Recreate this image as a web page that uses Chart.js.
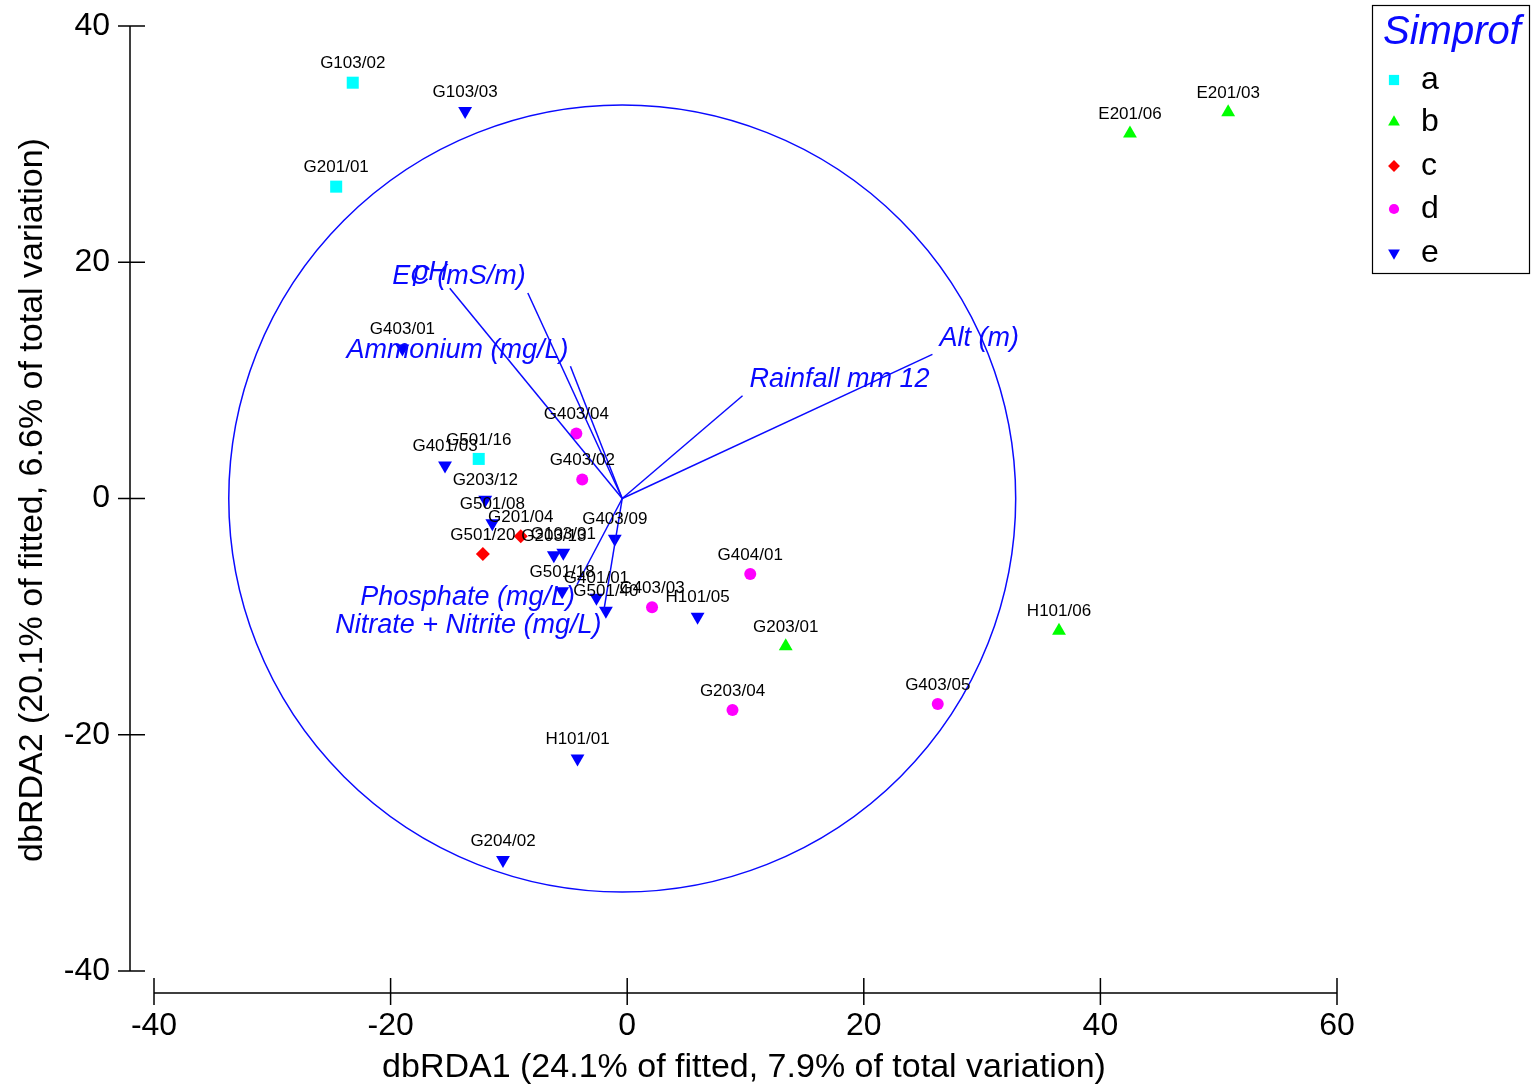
<!DOCTYPE html>
<html>
<head>
<meta charset="utf-8">
<script src="https://cdn.jsdelivr.net/npm/chart.js@4/dist/chart.umd.min.js"></script>
<style>
  html, body { margin: 0; padding: 0; background: #fff; }
  canvas { display: block; }
</style>
</head>
<body>
<canvas id="rdaChart" width="1533" height="1088"></canvas>
<script>
// ===== Data =====
const sampleNames = ['G103/02', 'G201/01', 'G501/16', 'E201/06', 'E201/03', 'H101/06', 'G203/01',
  'G201/04', 'G501/20', 'G403/04', 'G403/02', 'G403/03', 'G404/01', 'G203/04', 'G403/05',
  'G103/03', 'G403/01', 'G401/03', 'G203/12', 'G501/08', 'G203/13', 'G103/01', 'G403/09',
  'G501/18', 'G401/01', 'G501/40', 'H101/05', 'H101/01', 'G204/02'];
const sampleX = [-23.2, -24.6, -12.55, 42.5, 50.8, 36.5, 13.4,
  -9.0, -12.2, -4.3, -3.8, 2.1, 10.4, 8.9, 26.25,
  -13.7, -19.0, -15.4, -12.0, -11.4, -6.2, -5.4, -1.05,
  -5.5, -2.6, -1.8, 5.95, -4.2, -10.5];
const sampleY = [35.2, 26.4, 3.35, 30.9, 32.7, -11.2, -12.5,
  -3.2, -4.7, 5.5, 1.6, -9.2, -6.4, -17.9, -17.4,
  32.8, 12.7, 2.8, -0.1, -2.1, -4.8, -4.6, -3.4,
  -7.85, -8.4, -9.5, -10.0, -22.0, -30.6];
const sampleGroup = ['a', 'a', 'a', 'b', 'b', 'b', 'b',
  'c', 'c', 'd', 'd', 'd', 'd', 'd', 'd',
  'e', 'e', 'e', 'e', 'e', 'e', 'e', 'e',
  'e', 'e', 'e', 'e', 'e', 'e'];

const groupNames = ['a', 'b', 'c', 'd', 'e'];

const vectorNames = ['pH', 'EC (mS/m)', 'Ammonium (mg/L)', 'Alt (m)', 'Rainfall mm 12',
  'Phosphate (mg/L)', 'Nitrate + Nitrite (mg/L)'];
const vectorX = [-15.0, -8.4, -4.8, 25.8, 9.75, -4.25, -2.0];
const vectorY = [17.8, 17.4, 11.2, 12.2, 8.7, -7.3, -9.65];
const vectorOrigin = [-0.42, 0];
const circleRadius = 33.26;

const xTicks = [-40, -20, 0, 20, 40, 60];
const yTicks = [-40, -20, 0, 20, 40];

// ===== Styles =====
const groupStyle = {
  a: { color: '#00ffff', pointStyle: 'rect', radius: 8.5, rotation: 0 },
  b: { color: '#00ff00', pointStyle: 'triangle', radius: 8, rotation: 0 },
  c: { color: '#ff0000', pointStyle: 'rectRot', radius: 7, rotation: 0 },
  d: { color: '#ff00ff', pointStyle: 'circle', radius: 6, rotation: 0 },
  e: { color: '#0000ff', pointStyle: 'triangle', radius: 8, rotation: 180 }
};
const FONT = '"Liberation Sans", Arial, Helvetica, sans-serif';
const BLUE = '#0a0aff';

// ===== Datasets =====
const datasets = [];

vectorNames.forEach((name, i) => {
  datasets.push({
    label: name,
    data: [{ x: vectorOrigin[0], y: vectorOrigin[1] }, { x: vectorX[i], y: vectorY[i] }],
    showLine: true,
    borderColor: BLUE,
    borderWidth: 1.5,
    pointRadius: 0,
    fill: false
  });
});

groupNames.forEach(g => {
  const st = groupStyle[g];
  const pts = [];
  sampleNames.forEach((n, i) => {
    if (sampleGroup[i] === g) pts.push({ x: sampleX[i], y: sampleY[i], name: n });
  });
  datasets.push({
    label: g,
    data: pts,
    pointStyle: st.pointStyle,
    pointRadius: st.radius,
    pointRotation: st.rotation,
    backgroundColor: st.color,
    borderColor: st.color,
    borderWidth: 0,
    showLine: false
  });
});

// ===== Custom drawing: circle, labels, detached axes, legend =====
const primerPlugin = {
  id: 'primerPlugin',
  beforeDatasetsDraw(chart) {
    const { ctx, scales: { x, y } } = chart;
    const cx = x.getPixelForValue(vectorOrigin[0]);
    const cy = y.getPixelForValue(vectorOrigin[1]);
    const r = x.getPixelForValue(vectorOrigin[0] + circleRadius) - cx;
    ctx.save();
    ctx.strokeStyle = BLUE;
    ctx.lineWidth = 1.5;
    ctx.beginPath();
    ctx.arc(cx, cy, r, 0, Math.PI * 2);
    ctx.stroke();
    ctx.restore();
  },
  afterDatasetsDraw(chart) {
    const { ctx, scales: { x, y } } = chart;
    ctx.save();
    // sample labels
    ctx.fillStyle = '#000';
    ctx.font = '17px ' + FONT;
    ctx.textAlign = 'center';
    ctx.textBaseline = 'middle';
    sampleNames.forEach((n, i) => {
      ctx.fillText(n, x.getPixelForValue(sampleX[i]), y.getPixelForValue(sampleY[i]) - 19);
    });
    // vector labels
    ctx.fillStyle = BLUE;
    ctx.font = 'italic 27px ' + FONT;
    vectorNames.forEach((n, i) => {
      const px = x.getPixelForValue(vectorX[i]);
      const py = y.getPixelForValue(vectorY[i]);
      const left = vectorX[i] < vectorOrigin[0];
      ctx.textAlign = left ? 'right' : 'left';
      ctx.fillText(n, left ? px - 2 : px + 7, vectorY[i] > 0 ? py - 16 : py + 13);
    });
    ctx.restore();
  },
  afterDraw(chart) {
    const { ctx, chartArea: area, scales: { x, y } } = chart;
    ctx.save();
    ctx.strokeStyle = '#000';
    ctx.fillStyle = '#000';
    ctx.lineWidth = 1.5;

    // y axis, detached to the left
    const axX = area.left - 24;
    ctx.beginPath();
    ctx.moveTo(axX, y.getPixelForValue(yTicks[0]));
    ctx.lineTo(axX, y.getPixelForValue(yTicks[yTicks.length - 1]));
    yTicks.forEach(t => {
      const py = y.getPixelForValue(t);
      ctx.moveTo(axX - 12, py);
      ctx.lineTo(axX + 15, py);
    });
    ctx.stroke();
    ctx.font = '32px ' + FONT;
    ctx.textAlign = 'right';
    ctx.textBaseline = 'middle';
    yTicks.forEach(t => ctx.fillText(String(t), axX - 20, y.getPixelForValue(t)));

    // x axis, detached below
    const axY = area.bottom + 22;
    ctx.beginPath();
    ctx.moveTo(x.getPixelForValue(xTicks[0]), axY);
    ctx.lineTo(x.getPixelForValue(xTicks[xTicks.length - 1]), axY);
    xTicks.forEach(t => {
      const px = x.getPixelForValue(t);
      ctx.moveTo(px, axY - 15);
      ctx.lineTo(px, axY + 12);
    });
    ctx.stroke();
    ctx.textAlign = 'center';
    xTicks.forEach(t => ctx.fillText(String(t), x.getPixelForValue(t), axY + 33));

    // axis titles
    ctx.font = '34px ' + FONT;
    ctx.fillText('dbRDA1 (24.1% of fitted, 7.9% of total variation)', 744, 1068);
    ctx.save();
    ctx.translate(33, 500);
    ctx.rotate(-Math.PI / 2);
    ctx.fillText('dbRDA2 (20.1% of fitted, 6.6% of total variation)', 0, 0);
    ctx.restore();

    // legend box
    ctx.lineWidth = 1.2;
    ctx.strokeRect(1372.5, 5.5, 157, 268);
    ctx.fillStyle = BLUE;
    ctx.font = 'italic 40px ' + FONT;
    ctx.textAlign = 'left';
    ctx.fillText('Simprof', 1383, 33);
    const rowY = [80, 122, 166, 209, 253];
    groupNames.forEach((g, i) => {
      const st = groupStyle[g];
      ctx.fillStyle = st.color;
      ctx.strokeStyle = st.color;
      Chart.helpers.drawPoint(ctx, {
        pointStyle: st.pointStyle,
        radius: st.radius * 0.85,
        rotation: st.rotation,
        borderWidth: 0
      }, 1394, rowY[i]);
      ctx.fillStyle = '#000';
      ctx.font = '32px ' + FONT;
      ctx.fillText(g, 1421, rowY[i]);
    });
    ctx.restore();
  }
};

const ctx = document.getElementById('rdaChart').getContext('2d');
new Chart(ctx, {
  type: 'scatter',
  data: { datasets },
  options: {
    responsive: false,
    animation: false,
    layout: { padding: { left: 154, right: 196, top: 26, bottom: 117 } },
    scales: {
      x: { type: 'linear', min: -40, max: 60, display: false },
      y: { type: 'linear', min: -40, max: 40, display: false }
    },
    plugins: {
      legend: { display: false },
      tooltip: { enabled: false }
    }
  },
  plugins: [primerPlugin]
});
</script>
</body>
</html>
